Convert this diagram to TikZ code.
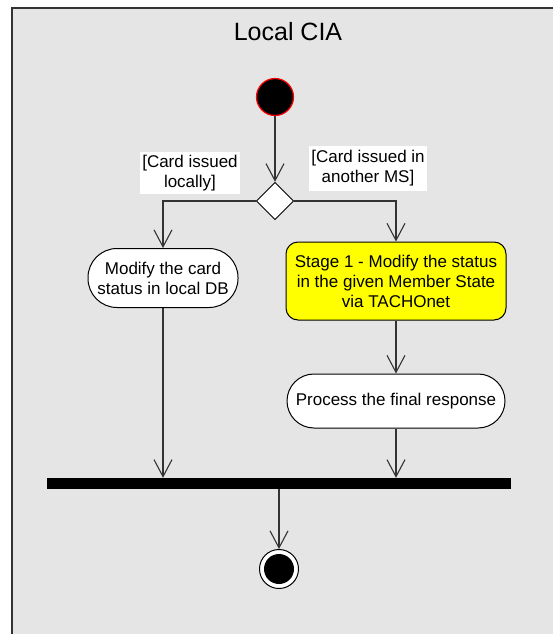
\documentclass[tikz,border=0pt]{standalone}
\usepackage{fontspec}
\setmainfont{Liberation Sans}
\usetikzlibrary{shapes.geometric,arrows.meta}
\definecolor{panel}{HTML}{E5E5E5}
\definecolor{edge}{HTML}{333333}
\definecolor{stageyellow}{HTML}{FFFF00}
\begin{document}
\begin{tikzpicture}[x=1pt,y=-1pt,
  flow/.style={draw=edge,line width=1.1pt,
    -{Straight Barb[length=17pt,width=18pt,line width=1.1pt]}},
  action/.style={draw=black,line width=1pt,fill=white,align=center,
    inner sep=0pt,font=\fontsize{17}{20}\selectfont},
  guard/.style={fill=white,align=center,inner sep=0pt,
    font=\fontsize{17}{20}\selectfont},
]
\useasboundingbox (0,0) rectangle (553,634);
% activity frame
\fill[white] (0,0) rectangle (553,634);
\draw[draw=edge,fill=panel,line width=2pt] (12,8) rectangle (565,650);
\node[font=\fontsize{25}{30}\selectfont] (title) at (288,32) {Local CIA};

% initial node
\node[circle,fill=black,draw=red,line width=1.2pt,minimum size=37pt,inner sep=0pt] (start) at (275,97) {};
% decision
\node[diamond,draw=black,line width=1pt,fill=white,minimum width=37.4pt,minimum height=37.4pt,inner sep=0pt] (dec) at (275,201) {};
% guards
\node[guard,minimum width=100pt,minimum height=42pt] (gl) at (190,173) {[Card issued\\locally]};
\node[guard,minimum width=118pt,minimum height=45pt] (gr) at (368,168.5) {[Card issued in\\another MS]};

% actions
\node[action,minimum width=150pt,minimum height=59pt,rounded corners=29pt] (local) at (163,278) {Modify the card\\status in local DB};
\node[action,fill=stageyellow,minimum width=220pt,minimum height=78pt,rounded corners=12pt] (stage) at (396,281) {Stage 1 - Modify the status\\in the given Member State\\via TACHOnet};
\node[action,minimum width=218pt,minimum height=54pt,rounded corners=27pt] (proc) at (396,401) {Process the final response};

% join bar
\node[fill=black,minimum width=464pt,minimum height=11pt,inner sep=0pt] (bar) at (279,483.5) {};
% final node
\node[circle,draw=black,line width=1pt,fill=white,minimum size=39pt,inner sep=0pt] (stop) at (279,569) {};
\node[circle,fill=black,minimum size=30pt,inner sep=0pt] (stopdot) at (stop) {};

% control flows
\draw[flow] (start) -- (dec);
\draw[flow] (dec.west) -| (local.north);
\draw[flow] (dec.east) -| (stage.north);
\draw[flow] (stage) -- (proc);
\draw[flow] (local.south) -- (local.south |- bar.north);
\draw[flow] (proc.south) -- (proc.south |- bar.north);
\draw[flow] (bar.south) -- (stop.north);
\end{tikzpicture}
\end{document}
